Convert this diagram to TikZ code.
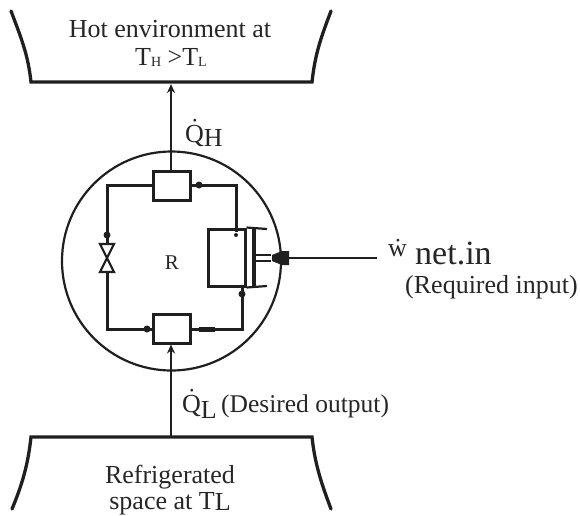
\documentclass[tikz,border=0pt]{standalone}
\usepackage{fontspec}
\setmainfont{Liberation Serif}
\usetikzlibrary{arrows.meta}
\tikzset{
  thick line/.style={draw=black!88,line width=3.3pt,line cap=round,line join=miter},
  cycle line/.style={draw=black!88,line width=3pt,line join=miter},
  thin line/.style={draw=black!88,line width=2.2pt},
  blob/.style={draw=none,fill=black!88,circle,minimum size=7pt,inner sep=0pt},
  comp/.style={draw=black!88,line width=3pt,fill=white,inner sep=0pt},
  lab/.style={inner sep=0pt,text=black!85,font=\fontsize{26}{30}\selectfont},
  big/.style={inner sep=0pt,text=black!85,font=\fontsize{34}{38}\selectfont},
  tip/.style={-{Stealth[length=9pt,width=8pt]}}
}
\newcommand{\lowtxt}[2]{\raisebox{#1}{#2}}
\begin{document}
\begin{tikzpicture}[x=1pt,y=-1pt]
\useasboundingbox (0,0) rectangle (580,515);
% reservoirs
\coordinate (tl) at (11,11); \coordinate (tbl) at (31,82);
\coordinate (tbr) at (312,82); \coordinate (tr) at (331,11);
\draw[thick line] (tl) .. controls (22,40) and (28,55) .. (tbl) -- (tbr) .. controls (315,55) and (320,40) .. (tr);
\coordinate (bl) at (12,509); \coordinate (bbl) at (31,437);
\coordinate (bbr) at (312,437); \coordinate (br) at (331,509);
\draw[thick line] (bl) .. controls (22,485) and (28,465) .. (bbl) -- (bbr) .. controls (315,465) and (322,485) .. (br);
% system boundary
\node[draw=black!88,line width=2.2pt,circle,minimum size=219pt,inner sep=0pt] (sys) at (171.5,261) {};
% cycle components
\node[comp,minimum width=37pt,minimum height=29pt] (cond) at (171.5,185.5) {};
\node[comp,minimum width=37pt,minimum height=29pt] (evap) at (171.5,328.5) {};
\node[comp,minimum width=37pt,minimum height=57pt] (cyl) at (226.5,257.5) {};
\coordinate (pe) at (254,229); \coordinate (pf) at (254,286);
\draw[thin line] (cyl.north east) -- (267,229);
\draw[thin line] (cyl.south east) -- (267,286);
\draw[thick line,line cap=butt] (pe) -- (pf);
\draw[thin line] (254,255) -- (271,255);
\draw[thin line] (254,261) -- (271,261);
% valve
\coordinate (va) at (100,244); \coordinate (vb) at (114,244);
\coordinate (vc) at (100,272); \coordinate (vd) at (114,272);
\draw[thin line,line join=miter] (va) -- (vb) -- (vc) -- (vd) -- cycle;
% cycle lines
\coordinate (c1) at (107,185); \coordinate (c2) at (107,329);
\coordinate (c3) at (242,329); \coordinate (c4) at (236,185);
\draw[cycle line] (cond.west |- c1) -- (c1) -- (107,244);
\draw[cycle line] (107,272) -- (c2) -- (evap.west |- c2);
\draw[cycle line] (evap.east |- c3) -- (c3) -- (242,286);
\draw[cycle line] (236,232) -- (c4) -- (cond.east |- c4);
\node[blob] (m1) at (199,185) {};
\node[blob] (m2) at (107,235) {};
\node[blob] (m3) at (147,329) {};
\node[draw=none,fill=black!88,minimum width=16pt,minimum height=5pt,inner sep=0pt] (m4) at (207,329) {};
\node[blob] (m5) at (242,294) {};
\node[blob,minimum size=4pt] (m6) at (236,235) {};
% heat flows
\coordinate (hq) at (171,84);
\draw[thin line,tip] (cond.north -| hq) -- (hq);
\draw[thin line,tip] (171,437) -- (evap.south -| 171,0);
% work
\coordinate (wend) at (377,258);
\draw[thin line] (wend) -- (285,258);
\fill[black!88] (289,251) -- (289,265) -- (282,265) -- (272,261) -- (272,255) -- (282,251) -- cycle;
% labels
\node[lab,anchor=base] (t1) at (170,37) {Hot environment at};
\node[lab,anchor=base] (t2) at (171,65) {T\lowtxt{-1pt}{\fontsize{14}{14}\selectfont H} >T\lowtxt{-1pt}{\fontsize{14}{14}\selectfont L}};
\node[lab,anchor=base west] (qh) at (185,142) {\.{Q}\lowtxt{-4pt}{H}};
\node[lab,anchor=base] (r) at (172,269) {\fontsize{21}{21}\selectfont R};
\node[lab,anchor=base west] (qlt) at (182,412) {\.{Q}\lowtxt{-6pt}{L}\,\fontsize{25.5}{26}\selectfont (Desired output)};
\node[lab,anchor=base] (b1) at (170,483) {Refrigerated};
\node[lab,anchor=base] (b2) at (170,509) {space at T\lowtxt{-1pt}{L}};
\node[lab,anchor=base west] (w) at (388,256) {\.{w}};
\node[big,anchor=base west] (ni) at (415,264) {net.in};
\node[lab,anchor=base west] (ri) at (405,293) {(Required input)};
\end{tikzpicture}
\end{document}
